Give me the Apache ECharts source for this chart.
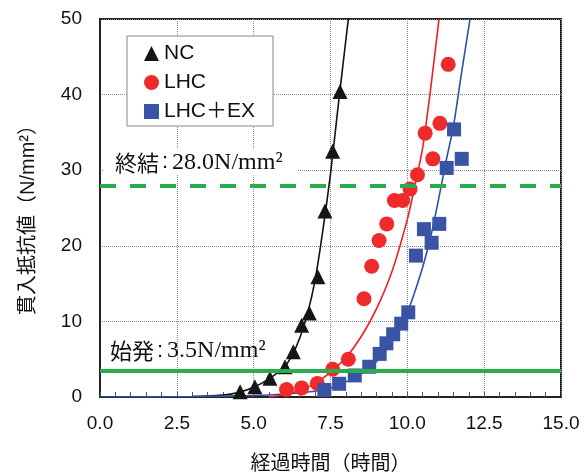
<!DOCTYPE html>
<html>
<head>
<meta charset="utf-8">
<script src="https://cdn.jsdelivr.net/npm/echarts@6/dist/echarts.min.js"></script>
<style>
html,body{margin:0;padding:0;background:#fff;}
#chart{width:585px;height:472px;}
</style>
</head>
<body>
<div id="chart"></div>
<script>
// ---- data ----
const seriesNames = ['NC', 'LHC', 'LHC＋EX'];

const ncTime  = [4.56, 5.04, 5.53, 6.02, 6.29, 6.56, 6.81, 7.09, 7.32, 7.57, 7.81];
const ncValue = [0.7, 1.36, 2.48, 4.0, 6.0, 9.5, 11.1, 15.9, 24.6, 32.5, 40.4];

const lhcTime  = [6.07, 6.56, 7.07, 7.57, 8.08, 8.59, 8.84, 9.08, 9.33, 9.58, 9.85, 10.09, 10.33, 10.58, 10.83, 11.06, 11.33];
const lhcValue = [1.0, 1.2, 1.8, 3.67, 5.0, 13.0, 17.3, 20.7, 22.9, 26.0, 26.0, 27.5, 29.4, 34.9, 31.5, 36.2, 44.0];

const exTime  = [7.30, 7.78, 8.29, 8.76, 9.10, 9.32, 9.54, 9.80, 10.03, 10.28, 10.54, 10.79, 11.04, 11.28, 11.52, 11.77];
const exValue = [0.93, 1.75, 2.85, 4.0, 5.7, 7.1, 8.3, 9.7, 11.2, 18.7, 22.2, 20.4, 22.9, 30.3, 35.4, 31.5];

// fitted curves
const ncFitTime  = [0, 3.0, 4.0, 4.5, 5.0, 5.5, 6.0, 6.25, 6.5, 6.75, 7.0, 7.25, 7.5, 7.75, 8.08];
const ncFitValue = [0, 0.05, 0.25, 0.6, 1.3, 2.4, 4.0, 5.5, 7.8, 11.0, 15.5, 22.0, 29.5, 38.5, 50];

const lhcFitTime  = [5.5, 6.0, 6.5, 7.0, 7.5, 8.0, 8.5, 9.0, 9.5, 10.0, 10.25, 10.5, 10.75, 11.03];
const lhcFitValue = [0, 0.3, 0.9, 1.8, 3.3, 5.2, 8.0, 11.7, 16.6, 23.5, 28.0, 33.0, 40.5, 50];

const exFitTime  = [0, 3.0, 5.0, 6.0, 7.0, 7.5, 8.0, 8.5, 9.0, 9.5, 10.0, 10.25, 10.5, 10.75, 11.0, 11.25, 11.5, 11.75, 12.04];
const exFitValue = [0, 0.05, 0.2, 0.4, 0.75, 1.2, 2.0, 3.1, 4.7, 7.3, 11.2, 14.0, 17.2, 21.0, 25.8, 31.0, 35.8, 42.5, 50];

const thresholdNames  = ['始発', '終結'];
const thresholdValues = [3.5, 28.0];

const xTickLabels = ['0.0', '2.5', '5.0', '7.5', '10.0', '12.5', '15.0'];
const yTickLabels = ['0', '10', '20', '30', '40', '50'];

const xAxisName = '経過時間（時間）';
const yAxisName = '貫入抵抗値（N/mm²）';

// ---- build ----
const zip = (a, b) => a.map((v, i) => [v, b[i]]);
const SANS = "'Liberation Sans','Noto Sans CJK JP',sans-serif";
const CJK = "'Noto Sans CJK JP',sans-serif";
const SERIF = "'Liberation Serif','Noto Serif CJK JP',serif";
const GREEN = '#2aac4c';
const colors = ['#151515', '#ee2a2a', '#3a54a4'];
const lineColors = ['#111111', '#f01e1e', '#2f4faa'];

const chart = echarts.init(document.getElementById('chart'), null, {renderer: 'canvas'});

function thresholdLabel(i) {
  return '{k|' + thresholdNames[i] + '}{c|:}{n|' + thresholdValues[i].toFixed(1) + 'N/mm²}';
}
const richStyle = {
  k: {fontFamily: CJK, fontSize: 22, color: '#111'},
  c: {fontFamily: SANS, fontSize: 22, color: '#111', padding: [0, 4, 0, 3]},
  n: {fontFamily: SERIF, fontSize: 24, color: '#111'}
};

function fitSeries(name, t, v, color) {
  return {type: 'line', name: name, data: zip(t, v), showSymbol: false, smooth: 0.25,
          lineStyle: {color: color, width: 1.6}, z: 3, silent: true};
}

const option = {
  animation: false,
  backgroundColor: '#fff',
  grid: {left: 100, right: 24, top: 19, bottom: 75, containLabel: false, outerBoundsMode: 'none',
         show: true, borderColor: '#222', borderWidth: 2, backgroundColor: 'transparent'},
  legend: {
    data: seriesNames.map((n, i) => ({name: n, icon: ['triangle', 'circle', 'rect'][i]})),
    orient: 'vertical',
    left: 127, top: 36,
    itemWidth: 15, itemHeight: 15, itemGap: 8,
    padding: [7, 18, 4, 17],
    borderColor: '#888', borderWidth: 1, backgroundColor: '#fff',
    textStyle: {fontFamily: SANS, fontSize: 21, color: '#111'},
    z: 10
  },
  xAxis: {
    type: 'value', min: 0, max: 15, interval: 2.5,
    name: xAxisName, nameLocation: 'middle', nameGap: 55,
    nameTextStyle: {fontFamily: CJK, fontSize: 20, color: '#111'},
    axisLine: {show: true, lineStyle: {color: '#222', width: 2}},
    axisTick: {show: true, inside: true, length: 5, lineStyle: {color: '#555'}},
    minorTick: {show: true, splitNumber: 5, length: 5, lineStyle: {color: '#555'}},
    splitLine: {show: true, lineStyle: {color: '#888', type: 'dotted', width: 1}},
    axisLabel: {
      margin: 17, fontFamily: SANS, fontSize: 19, color: '#111',
      formatter: v => xTickLabels[Math.round(v / 2.5)]
    }
  },
  yAxis: {
    type: 'value', min: 0, max: 50, interval: 10,
    name: yAxisName, nameLocation: 'middle', nameGap: 62, nameRotate: 90,
    nameTextStyle: {fontFamily: SANS, fontSize: 20, color: '#111', padding: [0, 14, 0, 0]},
    axisLine: {show: true, lineStyle: {color: '#222', width: 2}},
    axisTick: {show: false},
    splitLine: {show: true, lineStyle: {color: '#888', type: 'dotted', width: 1}},
    axisLabel: {
      margin: 18, fontFamily: SANS, fontSize: 19, color: '#111',
      formatter: v => yTickLabels[Math.round(v / 10)]
    }
  },
  series: [
    {
      type: 'line', name: 'thresholds', data: [], silent: true, z: 1,
      markLine: {
        silent: true, symbol: ['none', 'none'], animation: false,
        data: [
          {
            yAxis: thresholdValues[0],
            lineStyle: {color: GREEN, width: 4, type: 'solid'},
            label: {show: true, position: 'insideStartTop', distance: [10, 8], formatter: thresholdLabel(0), rich: richStyle}
          },
          {
            yAxis: thresholdValues[1],
            lineStyle: {color: GREEN, width: 4, type: [16, 14]},
            label: {show: true, position: 'insideStartTop', distance: [4, 10], formatter: thresholdLabel(1), rich: richStyle,
                    backgroundColor: '#fff', padding: [1, 15, 1, 11]}
          }
        ]
      }
    },
    fitSeries('NCfit', ncFitTime, ncFitValue, lineColors[0]),
    fitSeries('LHCfit', lhcFitTime, lhcFitValue, lineColors[1]),
    fitSeries('EXfit', exFitTime, exFitValue, lineColors[2]),
    {type: 'scatter', name: seriesNames[0], data: zip(ncTime, ncValue), symbol: 'triangle', symbolSize: 15,
     itemStyle: {color: colors[0], opacity: 1}, z: 4},
    {type: 'scatter', name: seriesNames[1], data: zip(lhcTime, lhcValue), symbol: 'circle', symbolSize: 15,
     itemStyle: {color: colors[1], opacity: 1}, z: 4},
    {type: 'scatter', name: seriesNames[2], data: zip(exTime, exValue), symbol: 'rect', symbolSize: 14,
     itemStyle: {color: colors[2], opacity: 1}, z: 4}
  ]
};
chart.setOption(option);
</script>
</body>
</html>
